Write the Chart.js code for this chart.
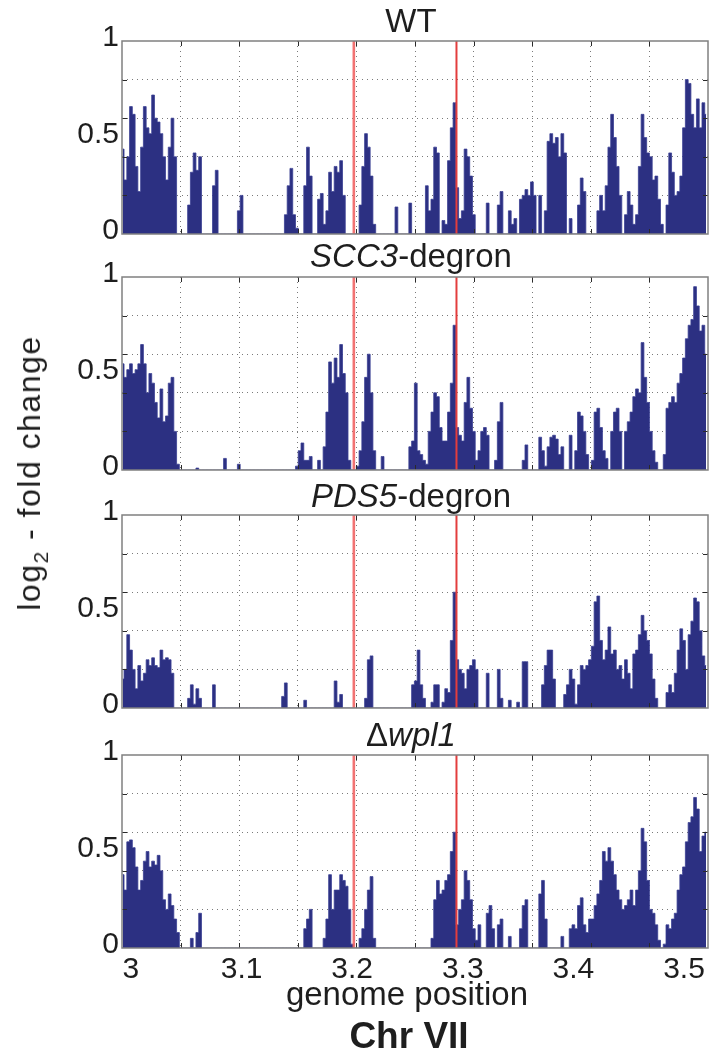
<!DOCTYPE html>
<html><head><meta charset="utf-8">
<script src="https://cdn.jsdelivr.net/npm/chart.js@4/dist/chart.umd.min.js"></script>
<style>
html,body{margin:0;padding:0;background:#fff;}
#wrap{position:relative;width:710px;height:1054px;overflow:hidden;font-family:'Liberation Sans',Arial,Helvetica,sans-serif;color:#1e1e1e;}
canvas{position:absolute;left:0;}
.t{position:absolute;left:0;width:822px;text-align:center;font-size:33px;line-height:33px;white-space:nowrap;}
#ylab{position:absolute;left:31px;top:473px;transform:translate(-50%,-50%) rotate(-90deg);font-size:32px;line-height:32px;letter-spacing:1.5px;white-space:nowrap;}
#ylab span{font-size:21px;position:relative;top:8px;}
#xlab{position:absolute;left:0;width:814px;top:977px;text-align:center;font-size:33px;line-height:33px;white-space:nowrap;}
#chr{position:absolute;left:0;width:818px;top:1017px;text-align:center;font-size:37px;line-height:37px;font-weight:bold;white-space:nowrap;}
</style></head><body><div id="wrap">
<canvas id="c1" width="710" height="243" style="top:13px"></canvas>
<canvas id="c2" width="710" height="243" style="top:249px"></canvas>
<canvas id="c3" width="710" height="243" style="top:487px"></canvas>
<canvas id="c4" width="710" height="288" style="top:727px"></canvas>
<div class="t" style="top:4px">WT</div>
<div class="t" style="top:239px"><i>SCC3</i>-degron</div>
<div class="t" style="top:479px"><i>PDS5</i>-degron</div>
<div class="t" style="top:718px">Δ<i>wpl1</i></div>
<div id="ylab">log<span>2</span> - fold change</div>
<div id="xlab">genome position</div>
<div id="chr">Chr VII</div>
</div>
<script>
// ---- data (genome position in Mb, log2 fold change) ----
const binStart = 2.9925, binStep = 0.0025, binCount = 212;
const positions = Array.from({length: binCount}, (_, i) => +(binStart + i * binStep).toFixed(4));

const wt = [
0.44,0.28,0.40,0.66,0.62,0.35,0.22,0.45,0.66,0.55,
0.52,0.72,0.60,0.58,0.52,0.40,0.28,0.45,0.60,0.40,
0,0,0,0,0.15,0.32,0.42,0.33,0.40,0,
0,0,0,0.25,0.33,0,0,0,0,0,
0,0,0.12,0.20,0,0,0,0,0,0,
0,0,0,0,0,0,0,0,0,0.10,
0.25,0.34,0.10,0.03,0,0,0.25,0.45,0.30,0,
0,0.18,0.21,0.05,0.12,0.32,0.22,0.35,0.32,0.38,
0.20,0,0,0,0,0,0.15,0.35,0.52,0.45,
0.30,0.05,0,0,0,0,0,0,0,0.14,
0,0,0,0,0.16,0,0,0,0,0,
0.25,0.12,0.18,0.45,0.42,0,0.07,0.05,0.38,0.55,
0.68,0.24,0.08,0.12,0.44,0.40,0.30,0.10,0,0,
0,0,0.16,0,0,0,0.15,0.22,0,0,
0.12,0.05,0.08,0,0.18,0.20,0.23,0.20,0.27,0.20,
0,0.20,0,0.12,0.48,0.52,0.47,0.50,0.40,0.52,
0.42,0,0.08,0,0,0.15,0.29,0.22,0,0,
0,0,0.12,0.20,0.12,0.25,0.45,0.62,0.50,0.35,
0.20,0,0.10,0.22,0.15,0.05,0.10,0.35,0.62,0.50,
0.42,0.40,0.28,0.30,0.18,0.05,0,0.15,0.42,0.32,
0.20,0.22,0.30,0.55,0.80,0.78,0.62,0.55,0.70,0.55,
0.68,0.62];

const scc3 = [
0.55,0.48,0.52,0.55,0.50,0.52,0.55,0.65,0.55,0.40,
0.50,0.45,0.35,0.27,0.42,0.25,0.28,0.45,0.48,0.20,
0.03,0,0,0,0,0,0,0.01,0,0,
0,0,0,0,0,0,0,0.06,0,0,
0,0,0.03,0,0,0,0,0,0,0,
0,0,0,0,0,0,0,0,0,0,
0,0,0,0.02,0.10,0.14,0.05,0.05,0.07,0,
0,0.05,0,0.12,0.30,0.56,0.45,0.58,0.48,0.65,
0.50,0.40,0.05,0,0,0.02,0.10,0.25,0.48,0.60,
0.40,0.10,0,0,0.07,0,0,0,0,0,
0,0,0,0,0.12,0.15,0.45,0.10,0.08,0.05,
0.03,0.20,0.30,0.40,0.38,0.22,0.15,0.15,0.30,0.45,
0.75,0.22,0.18,0.15,0.35,0.48,0.32,0.20,0.05,0.10,
0.20,0.22,0.18,0,0,0.05,0.25,0.35,0,0,
0,0,0,0,0,0.05,0.13,0,0,0,
0,0.17,0.10,0.02,0.12,0.17,0.18,0.16,0.08,0.12,
0,0,0.18,0,0.10,0.30,0.28,0.20,0.08,0,
0.05,0.30,0.32,0.22,0.10,0.06,0,0.20,0.30,0.32,
0.20,0,0.20,0.25,0.30,0.38,0.42,0.40,0.66,0.48,
0.35,0.20,0.10,0.04,0,0,0.08,0.32,0.35,0.38,
0.35,0.45,0.50,0.58,0.68,0.75,0.78,0.95,0.85,0.72,
0.75,0.60];

const pds5 = [
0.15,0.20,0.38,0.30,0.20,0.10,0.22,0.14,0.18,0.25,
0.22,0.26,0.22,0.21,0.30,0.25,0.26,0.25,0.18,0,
0,0,0,0,0.05,0.12,0.02,0.10,0.05,0,
0,0,0,0.12,0,0,0,0,0,0,
0,0,0,0,0,0,0,0,0,0,
0,0,0,0,0,0,0,0,0.06,0.13,
0,0,0,0,0,0,0.04,0,0,0,
0,0,0,0,0,0,0,0.14,0.03,0.07,
0,0,0,0,0,0,0,0,0.05,0.25,
0.27,0,0,0,0,0,0,0,0,0,
0,0,0,0,0,0.12,0.14,0.30,0.12,0.05,
0,0,0.03,0.12,0.12,0,0.03,0.10,0.08,0.35,
0.60,0.25,0.20,0.18,0.10,0.20,0.22,0.25,0.20,0,
0,0,0.18,0,0,0,0.20,0.05,0,0,
0.04,0,0,0.03,0,0.24,0.24,0,0,0,
0,0,0.12,0.22,0.30,0.30,0.15,0,0,0,
0.07,0.12,0.20,0.15,0.02,0.12,0.22,0.20,0.22,0.25,
0.32,0.55,0.58,0.35,0.25,0.30,0.42,0.28,0.30,0.20,
0.22,0.15,0.25,0.18,0.10,0.28,0.30,0.38,0.48,0.40,
0.35,0.28,0.15,0.05,0,0,0,0.08,0.12,0.08,
0.18,0.30,0.41,0.35,0.20,0.38,0.45,0.57,0.55,0.40,
0.27,0.22];

const wpl1 = [
0.38,0.30,0.55,0.56,0.52,0.42,0.30,0.35,0.45,0.50,
0.42,0.45,0.43,0.48,0.40,0.25,0.20,0.28,0.22,0.15,
0.08,0,0,0,0,0.05,0,0.08,0.18,0,
0,0,0,0,0,0,0,0,0,0,
0,0,0,0,0,0,0,0,0,0,
0,0,0,0,0,0,0,0,0,0,
0,0,0,0,0,0,0.10,0.15,0.20,0,
0,0,0,0.05,0.15,0.38,0.20,0.30,0.30,0.38,
0.35,0.32,0.20,0.02,0,0,0.05,0.10,0.20,0.30,
0.37,0.05,0,0,0,0,0,0,0,0,
0,0,0,0,0,0,0,0,0,0,
0,0,0.05,0.25,0.35,0.28,0.30,0.35,0.38,0.50,
0.60,0.12,0.20,0.25,0.40,0.35,0.25,0.10,0.04,0.12,
0,0,0.18,0.22,0.10,0,0.12,0.15,0,0,
0.06,0,0,0,0.10,0.22,0.25,0,0,0,
0,0.28,0.35,0.15,0,0,0,0,0,0.06,
0,0,0.10,0.12,0.10,0.22,0.26,0.12,0.08,0.15,
0.15,0.22,0.28,0.35,0.50,0.45,0.52,0.45,0.38,0.30,
0.25,0.20,0.22,0.25,0.30,0.22,0.30,0.40,0.62,0.55,
0.35,0.20,0.18,0.12,0.04,0,0.02,0.12,0.10,0.15,
0.18,0.30,0.38,0.42,0.55,0.65,0.68,0.78,0.72,0.50,
0.58,0.60];

const markerPositions = [3.2015, 3.2943];      // red vertical lines
const xTickLabels = [3, 3.1, 3.2, 3.3, 3.4, 3.5];
const yTickLabels = [0, 0.5, 1];
const yGridValues = [0.2, 0.4, 0.6, 0.8];
const xMin = 2.9919, xMax = 3.5217, gridDivisions = 10;

// ---- drawing ----
const NAVY = '#2c3082';
const FONT = "'Liberation Sans', Arial, Helvetica, sans-serif";

const boxPlugin = {
  id: 'box',
  afterDatasetsDraw(chart) {
    const {ctx, chartArea: a, scales} = chart;
    ctx.save();
    ctx.strokeStyle = '#2a2a2a';
    ctx.lineWidth = 1;
    ctx.beginPath();
    scales.x.ticks.forEach(t => {
      if (!t.grid) return;
      const px = Math.round(scales.x.getPixelForValue(t.value)) + 0.5;
      ctx.moveTo(px, a.top); ctx.lineTo(px, a.top + 5);
      ctx.moveTo(px, a.bottom); ctx.lineTo(px, a.bottom - 5);
    });
    scales.y.ticks.forEach(t => {
      if (!t.grid) return;
      const py = Math.round(scales.y.getPixelForValue(t.value)) + 0.5;
      ctx.moveTo(a.left, py); ctx.lineTo(a.left + 5, py);
      ctx.moveTo(a.right, py); ctx.lineTo(a.right - 5, py);
    });
    ctx.stroke();
    ctx.strokeStyle = '#808080';
    ctx.lineWidth = 1.5;
    ctx.strokeRect(a.left, a.top, a.width, a.height);
    ctx.restore();
  }
};

function makePanel(id, values, showX) {
  const pts = positions.map((x, i) => ({x, y: values[i]}));
  const datasets = [{
    data: pts, borderColor: '#3a3f93', borderWidth: 0.8, backgroundColor: NAVY,
    fill: 'origin', pointRadius: 0, stepped: 'middle', order: 1
  }];
  markerPositions.forEach((m, k) => {
    datasets.push({
      data: [{x: m, y: 0}, {x: m, y: 1}],
      borderColor: k === 0 ? 'rgba(239,100,100,0.9)' : '#e33d3d',
      borderWidth: k === 0 ? 2.6 : 2, pointRadius: 0, fill: false, order: 0
    });
  });
  new Chart(document.getElementById(id), {
    type: 'line',
    data: {datasets},
    plugins: [boxPlugin],
    options: {
      responsive: false, animation: false, devicePixelRatio: 1,
      layout: {padding: {left: 0, right: 2, top: 28, bottom: 22}},
      plugins: {legend: {display: false}, tooltip: {enabled: false}, title: {display: false}},
      scales: {
        x: {
          type: 'linear', min: xMin, max: xMax,
          afterBuildTicks: s => {
            const t = [];
            for (let k = 1; k < gridDivisions; k++) t.push({value: xMin + k * (xMax - xMin) / gridDivisions, grid: true});
            if (showX) xTickLabels.forEach(v => t.push({value: v, grid: false}));
            t.sort((a, b) => a.value - b.value);
            s.ticks = t;
          },
          afterFit: s => { s.height = showX ? 45 : 0; },
          grid: {drawTicks: false, tickLength: 0, lineWidth: 1,
                 color: c => (c.tick && c.tick.grid) ? '#7a7a7a' : 'rgba(0,0,0,0)'},
          border: {display: false, dash: [1, 4]},
          ticks: {display: showX, autoSkip: false, maxRotation: 0, padding: 4,
                  color: '#1e1e1e', font: {family: FONT, size: 30},
                  callback: (v, i, ticks) => ticks[i].grid ? '' : String(v)}
        },
        y: {
          type: 'linear', min: 0, max: 1,
          afterBuildTicks: s => {
            const t = yGridValues.map(v => ({value: v, grid: true}))
              .concat(yTickLabels.map(v => ({value: v, grid: false})));
            t.sort((a, b) => a.value - b.value);
            s.ticks = t;
          },
          afterFit: s => { s.width = 122; },
          grid: {drawTicks: false, tickLength: 0, lineWidth: 1,
                 color: c => (c.tick && c.tick.grid) ? '#7a7a7a' : 'rgba(0,0,0,0)'},
          border: {display: false, dash: [1, 4]},
          ticks: {autoSkip: false, padding: 3, labelOffset: -3,
                  color: '#1e1e1e', font: {family: FONT, size: 30},
                  callback: (v, i, ticks) => ticks[i].grid ? '' : String(v)}
        }
      }
    }
  });
}

makePanel('c1', wt, false);
makePanel('c2', scc3, false);
makePanel('c3', pds5, false);
makePanel('c4', wpl1, true);
</script>
</body></html>
